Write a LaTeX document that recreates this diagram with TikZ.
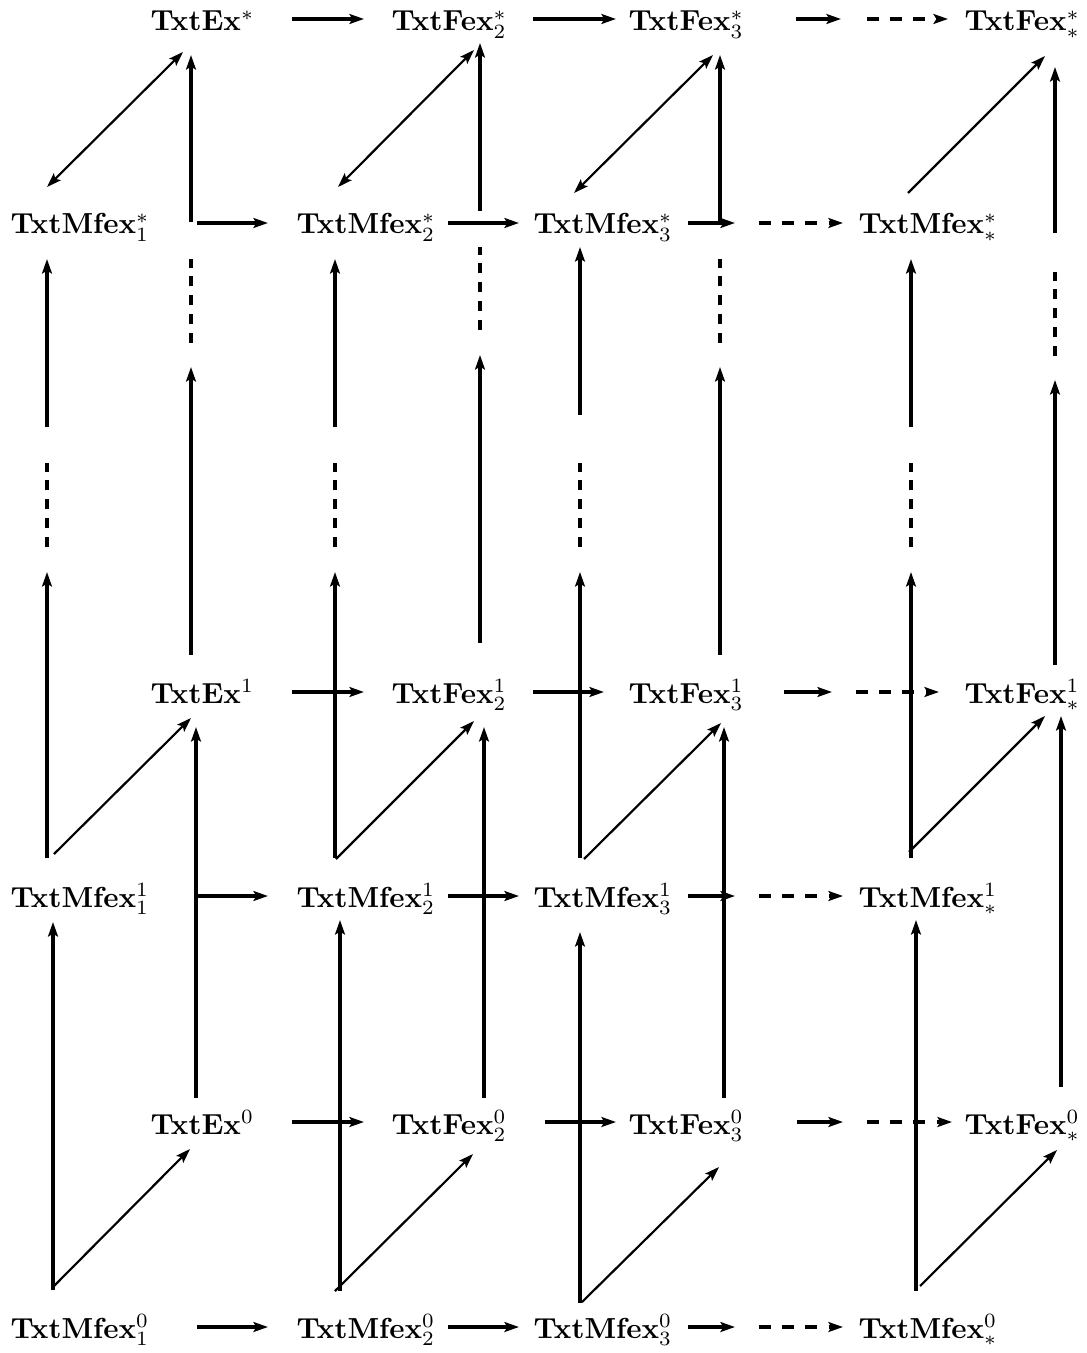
\documentclass[tikz,border=0pt]{standalone}
\usetikzlibrary{arrows.meta}
\begin{document}
\begin{tikzpicture}[x=0.345pt,y=-0.345pt,
  lbl/.style={inner sep=0pt,anchor=base west},
  tipst/.style={-{Stealth[length=5pt,width=3.4pt,inset=1pt]}},
  arr/.style={line width=1.1pt,tipst},
  bar/.style={line width=1.1pt},
  harr/.style={arr,dash pattern=on 4pt off 4pt},
  vdash/.style={bar,dash pattern=on 3.5pt off 3pt},
  diag/.style={line width=0.75pt,-{Stealth[length=5pt,width=3.4pt,inset=1pt]}},
  ddiag/.style={line width=0.75pt,{Stealth[length=5pt,width=3.4pt,inset=1pt]}-{Stealth[length=5pt,width=3.4pt,inset=1pt]}}]
\useasboundingbox (0,0) rectangle (1086,1353);

% ---------- labels ----------
\node[lbl] (ExS)  at (150,31)   {\textbf{TxtEx}$^{*}$};
\node[lbl] (F2S)  at (391,31)   {\textbf{TxtFex}$^{*}_{2}$};
\node[lbl] (F3S)  at (628,31)   {\textbf{TxtFex}$^{*}_{3}$};
\node[lbl] (FSS)  at (964,31)   {\textbf{TxtFex}$^{*}_{*}$};
\node[lbl] (M1S)  at (10,234)   {\textbf{TxtMfex}$^{*}_{1}$};
\node[lbl] (M2S)  at (296,234)  {\textbf{TxtMfex}$^{*}_{2}$};
\node[lbl] (M3S)  at (533,234)  {\textbf{TxtMfex}$^{*}_{3}$};
\node[lbl] (MSS)  at (858,234)  {\textbf{TxtMfex}$^{*}_{*}$};
\node[lbl] (Ex1)  at (150,703)  {\textbf{TxtEx}$^{1}$};
\node[lbl] (F21)  at (391,703)  {\textbf{TxtFex}$^{1}_{2}$};
\node[lbl] (F31)  at (628,703)  {\textbf{TxtFex}$^{1}_{3}$};
\node[lbl] (FS1)  at (964,703)  {\textbf{TxtFex}$^{1}_{*}$};
\node[lbl] (M11)  at (10,907)   {\textbf{TxtMfex}$^{1}_{1}$};
\node[lbl] (M21)  at (296,907)  {\textbf{TxtMfex}$^{1}_{2}$};
\node[lbl] (M31)  at (533,907)  {\textbf{TxtMfex}$^{1}_{3}$};
\node[lbl] (MS1)  at (858,907)  {\textbf{TxtMfex}$^{1}_{*}$};
\node[lbl] (Ex0)  at (150,1134) {\textbf{TxtEx}$^{0}$};
\node[lbl] (F20)  at (391,1134) {\textbf{TxtFex}$^{0}_{2}$};
\node[lbl] (F30)  at (628,1134) {\textbf{TxtFex}$^{0}_{3}$};
\node[lbl] (FS0)  at (964,1134) {\textbf{TxtFex}$^{0}_{*}$};
\node[lbl] (M10)  at (10,1338)  {\textbf{TxtMfex}$^{0}_{1}$};
\node[lbl] (M20)  at (296,1338) {\textbf{TxtMfex}$^{0}_{2}$};
\node[lbl] (M30)  at (533,1338) {\textbf{TxtMfex}$^{0}_{3}$};
\node[lbl] (MS0)  at (858,1338) {\textbf{TxtMfex}$^{0}_{*}$};

% ---------- horizontal arrows: Fex rows ----------
\foreach \r/\y in {S/19,1/692,0/1122}{
  \coordinate (hE\r a) at (292,\y);  \coordinate (hE\r b) at (364,\y);
  \draw[arr] (hE\r a) -- (hE\r b);
}
\coordinate (hF2Sa) at (533,19);   \coordinate (hF2Sb) at (616,19);
\coordinate (hF21a) at (533,692);  \coordinate (hF21b) at (604,692);
\coordinate (hF20a) at (545,1122); \coordinate (hF20b) at (616,1122);
\foreach \r in {S,1,0}{\draw[arr] (hF2\r a) -- (hF2\r b);}
\coordinate (hF3Sa) at (796,19);   \coordinate (hF3Sb) at (841,19);
\coordinate (hF3Sc) at (867,19);   \coordinate (hF3Sd) at (948,19);
\coordinate (hF31a) at (784,692);  \coordinate (hF31b) at (832,692);
\coordinate (hF31c) at (856,692);  \coordinate (hF31d) at (939,692);
\coordinate (hF30a) at (797,1122); \coordinate (hF30b) at (843,1122);
\coordinate (hF30c) at (867,1122); \coordinate (hF30d) at (952,1122);
\foreach \r in {S,1,0}{
  \draw[arr]  (hF3\r a) -- (hF3\r b);
  \draw[harr] (hF3\r c) -- (hF3\r d);
}

% ---------- horizontal arrows: Mfex rows ----------
\foreach \r/\y in {S/223,1/896,0/1327}{
  \coordinate (hM1\r a) at (197,\y); \coordinate (hM1\r b) at (268,\y);
  \coordinate (hM2\r a) at (448,\y); \coordinate (hM2\r b) at (519,\y);
  \coordinate (hM3\r a) at (688,\y); \coordinate (hM3\r b) at (735,\y);
  \coordinate (hM3\r c) at (759,\y); \coordinate (hM3\r d) at (843,\y);
  \draw[arr]  (hM1\r a) -- (hM1\r b);
  \draw[arr]  (hM2\r a) -- (hM2\r b);
  \draw[arr]  (hM3\r a) -- (hM3\r b);
  \draw[harr] (hM3\r c) -- (hM3\r d);
}

% ---------- top layer: diagonals and verticals into the * row ----------
\coordinate (t1a) at (47,187);   \coordinate (t1b) at (183,52);
\coordinate (t2a) at (338,187);  \coordinate (t2b) at (474,50);
\coordinate (t3a) at (574,193);  \coordinate (t3b) at (713,55);
\coordinate (t4a) at (908,193);  \coordinate (t4b) at (1045,56);
\draw[ddiag] (t1a) -- (t1b);
\draw[ddiag] (t2a) -- (t2b);
\draw[ddiag] (t3a) -- (t3b);
\draw[diag]  (t4a) -- (t4b);
\coordinate (uEa) at (191,222);   \coordinate (uEb) at (191,55);
\coordinate (uF2a) at (480,211);  \coordinate (uF2b) at (480,43);
\coordinate (uF3a) at (720,223);  \coordinate (uF3b) at (720,55);
\coordinate (uFSa) at (1055,233); \coordinate (uFSb) at (1055,67);
\draw[arr] (uEa) -- (uEb);
\draw[arr] (uF2a) -- (uF2b);
\draw[arr] (uF3a) -- (uF3b);
\draw[arr] (uFSa) -- (uFSb);

% ---------- middle band: broken verticals ----------
% Mfex columns: solid arrow, dashed gap, solid arrow
\foreach \c/\x/\t in {1/47/259,2/335/259,3/580/247,S/911/259}{
  \coordinate (mM\c a) at (\x,\t+168); \coordinate (mM\c b) at (\x,\t);
  \coordinate (mM\c c) at (\x,547);    \coordinate (mM\c d) at (\x,463);
  \coordinate (mM\c e) at (\x,858);    \coordinate (mM\c f) at (\x,572);
  \draw[arr]   (mM\c a) -- (mM\c b);
  \draw[vdash] (mM\c c) -- (mM\c d);
  \draw[arr]   (mM\c e) -- (mM\c f);
}
% Fex columns: dashed piece above, long solid arrow below
\foreach \c/\x/\d/\e/\h/\l in {E/191/343/259/367/655,F2/480/330/247/355/643,
                              F3/720/343/259/367/655,FS/1055/356/272/380/665}{
  \coordinate (mF\c a) at (\x,\d); \coordinate (mF\c b) at (\x,\e);
  \coordinate (mF\c c) at (\x,\l); \coordinate (mF\c d) at (\x,\h);
  \draw[vdash] (mF\c a) -- (mF\c b);
  \draw[arr]   (mF\c c) -- (mF\c d);
}

% ---------- layer 1: diagonals and verticals into the Fex^1 row ----------
\coordinate (c1a) at (54,854);   \coordinate (c1b) at (191,718);
\coordinate (c2a) at (336,859);  \coordinate (c2b) at (474,721);
\coordinate (c3a) at (584,859);  \coordinate (c3b) at (721,723);
\coordinate (c4a) at (909,852);  \coordinate (c4b) at (1045,716);
\foreach \i in {1,2,3,4}{\draw[diag] (c\i a) -- (c\i b);}
\coordinate (lEa) at (196,1098);  \coordinate (lEb) at (196,727);
\coordinate (lF2a) at (484,1098); \coordinate (lF2b) at (484,727);
\coordinate (lF3a) at (724,1098); \coordinate (lF3b) at (724,727);
\coordinate (lFSa) at (1061,1087);\coordinate (lFSb) at (1061,716);
\draw[arr] (lEa) -- (lEb);
\draw[arr] (lF2a) -- (lF2b);
\draw[arr] (lF3a) -- (lF3b);
\draw[arr] (lFSa) -- (lFSb);

% ---------- layer 0: verticals into the Mfex^1 row and diagonals ----------
\coordinate (bM1a) at (53,1290);  \coordinate (bM1b) at (53,922);
\coordinate (bM2a) at (340,1291); \coordinate (bM2b) at (340,920);
\coordinate (bM3a) at (580,1303); \coordinate (bM3b) at (580,932);
\coordinate (bMSa) at (916,1291); \coordinate (bMSb) at (916,920);
\draw[arr] (bM1a) -- (bM1b);
\draw[arr] (bM2a) -- (bM2b);
\draw[arr] (bM3a) -- (bM3b);
\draw[arr] (bMSa) -- (bMSb);
\coordinate (e1a) at (53,1287);  \coordinate (e1b) at (190,1149);
\coordinate (e2a) at (335,1291); \coordinate (e2b) at (473,1154);
\coordinate (e3a) at (582,1302); \coordinate (e3b) at (719,1167);
\coordinate (e4a) at (920,1286); \coordinate (e4b) at (1057,1150);
\foreach \i in {1,2,3,4}{\draw[diag] (e\i a) -- (e\i b);}
\end{tikzpicture}
\end{document}
